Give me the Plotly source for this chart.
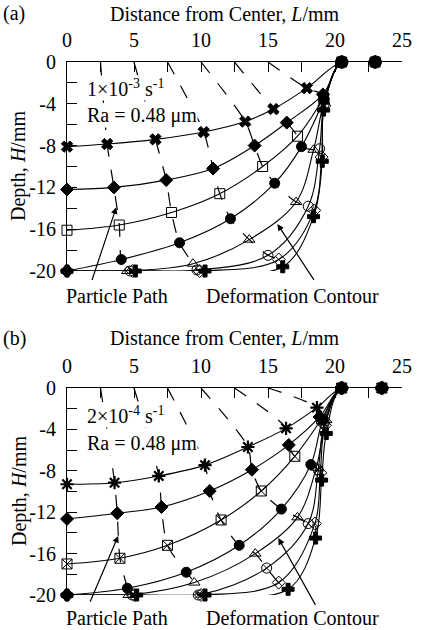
import plotly.graph_objects as go

# ---------------- data (panel a: 1e-3 s^-1) ----------------
a_L = [
    [0, 3.0, 6.6, 10.2, 13.3, 15.4, 17.9, 20.5, 23.0],
    [0, 3.5, 7.4, 10.9, 14.0, 16.4, 19.1, 20.5, 23.0],
    [0, 3.9, 7.8, 11.4, 14.6, 17.2, 19.15, 20.5, 23.0],
    [0, 4.05, 8.4, 12.2, 15.5, 17.5, 19.2, 20.5, 23.0],
    [0, 4.5, 9.4, 13.6, 17.1, 18.4, 19.2, 20.5, 23.0],
    [0, 4.7, 9.7, 15.0, 18.0, 18.85, 19.2, 20.5, 23.0],
    [0, 4.9, 9.9, 15.8, 18.45, 19.0, 19.2, 20.5, 23.0],
    [0, 5.1, 10.3, 16.1, 18.4, 19.05, 19.15, 20.5, 23.0],
]
a_H = [
    [-8.1, -7.85, -7.4, -6.7, -5.7, -4.5, -2.5, 0, 0],
    [-12.2, -12.0, -11.3, -10.2, -8.0, -5.8, -3.1, 0, 0],
    [-16.1, -15.6, -14.4, -12.6, -10.0, -7.1, -3.4, 0, 0],
    [-20, -18.9, -17.3, -15.0, -11.6, -8.1, -3.6, 0, 0],
    [-20, -20, -19.3, -17.0, -13.4, -8.4, -3.8, 0, 0],
    [-20, -20, -19.9, -18.5, -13.8, -8.3, -4.0, 0, 0],
    [-20, -20, -20, -18.9, -14.2, -9.1, -4.2, 0, 0],
    [-20, -20, -20, -19.6, -14.8, -9.5, -4.6, 0, 0],
]
# ---------------- data (panel b: 2e-4 s^-1) ----------------
b_L = [
    [0, 3.55, 6.85, 10.3, 13.5, 16.35, 18.65, 20.5, 23.5],
    [0, 3.75, 7.05, 10.65, 13.8, 16.55, 18.85, 20.5, 23.5],
    [0, 3.95, 7.5, 11.5, 14.5, 17.0, 19.0, 20.5, 23.5],
    [0, 4.5, 8.9, 12.85, 16.0, 18.2, 19.1, 20.5, 23.5],
    [0, 4.6, 9.5, 14.05, 17.2, 18.6, 19.35, 20.5, 23.5],
    [0, 4.85, 9.8, 14.9, 18.0, 18.75, 19.2, 20.5, 23.5],
    [0, 5.0, 10.0, 15.8, 18.5, 18.9, 19.25, 20.5, 23.5],
    [0, 5.2, 10.3, 16.5, 18.55, 19.0, 19.35, 20.5, 23.5],
]
b_H = [
    [-9.3, -9.15, -8.5, -7.45, -5.7, -3.9, -1.9, 0, 0],
    [-12.65, -12.1, -11.5, -9.95, -7.9, -5.5, -2.8, 0, 0],
    [-17.0, -16.45, -15.2, -12.75, -9.95, -6.6, -3.0, 0, 0],
    [-20, -19.35, -17.8, -15.2, -11.7, -7.4, -3.1, 0, 0],
    [-20, -20, -18.8, -16.0, -12.5, -7.7, -3.1, 0, 0],
    [-20, -20, -20, -17.4, -13.1, -7.9, -3.4, 0, 0],
    [-20, -20, -20, -18.8, -13.1, -8.2, -3.6, 0, 0],
    [-20, -20, -20, -19.45, -14.5, -8.9, -4.4, 0, 0],
]
# initial surface positions of the particle paths
path_start_L = [2.5, 5.0, 7.5, 10.0, 12.5, 15.0]

x_tickvals = [0, 2.5, 5, 7.5, 10, 12.5, 15, 17.5, 20, 22.5, 25]
x_ticktext = ["0", "", "5", "", "10", "", "15", "", "20", "", "25"]
y_tickvals = [0, -2, -4, -6, -8, -10, -12, -14, -16, -18, -20]
y_ticktext = ["0", "", "-4", "", "-8", "", "-12", "", "-16", "", "-20"]

symbols_a = ["x", "diamond", "square-open", "circle", "triangle-up-open",
             "circle-open", "diamond-x-open", "cross"]
symbols_b = ["asterisk-open", "diamond", "square-x-open", "circle", "triangle-up-open",
             "circle-x-open", "diamond-x-open", "cross"]

FONT = "Liberation Serif"
W, H = 424, 630
ML, MR, MT, MB = 67, 15, 62, 35
PW = W - ML - MR
PH = H - MT - MB


def px(x):
    return (x - ML) / PW


def py(y):
    return 1 - (y - MT) / PH


fig = go.Figure()


def add_panel(Ls, Hs, symbols, xa, ya):
    # particle paths (dashed) through corresponding points of each contour
    for k, L0 in enumerate(path_start_L, start=1):
        xs = [L0] + [Ls[j][k] for j in range(len(Ls))]
        ys = [0] + [Hs[j][k] for j in range(len(Hs))]
        fig.add_trace(go.Scatter(
            x=xs, y=ys, mode="lines", xaxis=xa, yaxis=ya,
            line=dict(color="black", width=1.2, dash="14px,13px", shape="spline", smoothing=0.8),
            cliponaxis=False, showlegend=False, hoverinfo="skip"))
    # deformation contours
    for j in range(len(Ls)):
        sym = symbols[j]
        size = 10
        lw = 1
        if sym == "x":
            size = 10
        if sym == "asterisk-open":
            size = 11
            lw = 2.2
        if sym == "cross":
            size = 10
        fig.add_trace(go.Scatter(
            x=Ls[j], y=Hs[j], mode="lines+markers", xaxis=xa, yaxis=ya,
            line=dict(color="black", width=1.1, shape="spline", smoothing=1.0),
            marker=dict(symbol=sym, size=size, color="black",
                        line=dict(color="black", width=lw)),
            cliponaxis=False, showlegend=False))


add_panel(a_L, a_H, symbols_a, "x", "y")
add_panel(b_L, b_H, symbols_b, "x2", "y2")

axis_common = dict(showgrid=False, zeroline=False, showline=True, linecolor="black",
                   linewidth=1.2, ticks="inside", ticklen=10, tickwidth=1.2,
                   tickcolor="black", tickfont=dict(family=FONT, size=20, color="black"),
                   ticklabelstandoff=6)

ya_dom = [py(271), 1]
yb_dom = [0, py(388)]

fig.update_layout(
    width=W, height=H,
    margin=dict(l=ML, r=MR, t=MT, b=MB),
    plot_bgcolor="white", paper_bgcolor="white",
    xaxis=dict(range=[0, 25], side="top", anchor="y", domain=[0, 1],
               tickvals=x_tickvals, ticktext=x_ticktext, **axis_common),
    yaxis=dict(range=[-20, 0], anchor="x", domain=ya_dom,
               tickvals=y_tickvals, ticktext=y_ticktext, **axis_common),
    xaxis2=dict(range=[0, 25], side="top", anchor="y2", domain=[0, 1],
                tickvals=x_tickvals, ticktext=x_ticktext, **axis_common),
    yaxis2=dict(range=[-20, 0], anchor="x2", domain=yb_dom,
                tickvals=y_tickvals, ticktext=y_ticktext, **axis_common),
)

tf = dict(family=FONT, size=20, color="black")
ann = []


def text(x, y, s, xanchor="center", angle=0, bg=None):
    d = dict(x=px(x), y=py(y), xref="paper", yref="paper", text=s, showarrow=False,
             xanchor=xanchor, yanchor="middle", font=tf, textangle=angle)
    if bg:
        d["bgcolor"] = bg
        d["borderpad"] = 0
    ann.append(d)


text(0, 14, "(a)", xanchor="left")
text(0, 338, "(b)", xanchor="left")
text(228, 14, "Distance from Center, <i>L</i>/mm")
text(228, 338, "Distance from Center, <i>L</i>/mm")
text(18, 166, "Depth, <i>H</i>/mm", angle=-90)
text(18, 491, "Depth, <i>H</i>/mm", angle=-90)
text(86, 88, "1×10<sup>-3</sup> s<sup>-1</sup>", xanchor="left", bg="white")
text(86, 115, "Ra = 0.48 μm", xanchor="left", bg="white")
text(86, 415, "2×10<sup>-4</sup> s<sup>-1</sup>", xanchor="left", bg="white")
text(86, 443, "Ra = 0.48 μm", xanchor="left", bg="white")
text(118, 296, "Particle Path")
text(297, 296, "Deformation Contour")
text(118, 618, "Particle Path")
text(297, 618, "Deformation Contour")

# arrows (head x,y ; tail ax,ay) in data coordinates
arrows = [
    ("x", "y", 3.68, -13.9, 1.83, -21.0),
    ("x", "y", 15.7, -15.5, 18.5, -21.0),
    ("x2", "y2", 3.82, -14.3, 1.68, -20.8),
    ("x2", "y2", 15.77, -14.5, 18.6, -21.1),
]
for xr, yr, hx, hy, tx, ty in arrows:
    ann.append(dict(x=hx, y=hy, ax=tx, ay=ty, xref=xr, yref=yr, axref=xr, ayref=yr,
                    text="", showarrow=True, arrowhead=2, arrowsize=1.1,
                    arrowwidth=1.2, arrowcolor="black", standoff=0, startstandoff=0))

fig.update_layout(annotations=ann)

fig.write_html("out.html")
